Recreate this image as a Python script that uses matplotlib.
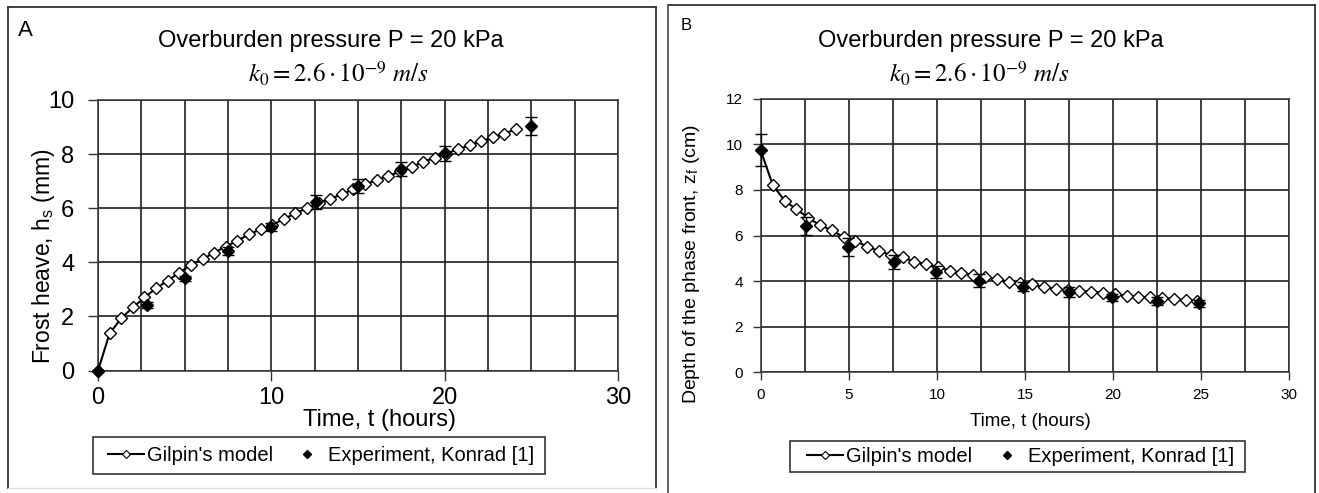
import matplotlib
matplotlib.use('Agg')
import matplotlib.pyplot as plt
from matplotlib.lines import Line2D
from matplotlib.patches import Rectangle
import matplotlib.ticker as mticker

plt.rcParams['font.family'] = ['Liberation Sans', 'DejaVu Sans']
plt.rcParams['mathtext.fontset'] = 'stix'

# ---------------- data ----------------
# Panel A: frost heave (mm)
model_t_A = [0, 0.67, 1.34, 2.01, 2.68, 3.35, 4.02, 4.69, 5.36, 6.03, 6.70, 7.37,
             8.04, 8.71, 9.38, 10.05, 10.72, 11.39, 12.06, 12.73, 13.40, 14.07,
             14.74, 15.41, 16.08, 16.75, 17.42, 18.09, 18.76, 19.43, 20.10, 20.77,
             21.44, 22.11, 22.78, 23.45, 24.12]
model_h_A = [0, 1.37, 1.93, 2.33, 2.70, 3.04, 3.32, 3.62, 3.90, 4.11, 4.36, 4.58,
             4.80, 5.03, 5.22, 5.38, 5.60, 5.81, 6.00, 6.18, 6.35, 6.51,
             6.70, 6.88, 7.04, 7.19, 7.36, 7.52, 7.71, 7.87, 8.02, 8.18,
             8.33, 8.48, 8.62, 8.76, 8.92]
exp_t_A = [0, 2.8, 5.0, 7.5, 10.0, 12.6, 15.0, 17.5, 20.0, 25.0]
exp_h_A = [0, 2.42, 3.41, 4.43, 5.32, 6.22, 6.82, 7.44, 8.03, 9.03]
exp_err_A = [0, 0.1, 0.1, 0.15, 0.15, 0.25, 0.25, 0.25, 0.28, 0.33]

# Panel B: depth of the phase front (cm)
model_t_B = [0, 0.67, 1.34, 2.01, 2.68, 3.35, 4.02, 4.69, 5.36, 6.03, 6.70, 7.37,
             8.04, 8.71, 9.38, 10.05, 10.72, 11.39, 12.06, 12.73, 13.40, 14.07,
             14.74, 15.41, 16.08, 16.75, 17.42, 18.09, 18.76, 19.43, 20.10, 20.77,
             21.44, 22.11, 22.78, 23.45, 24.12, 24.79]
model_z_B = [9.7, 8.21, 7.53, 7.15, 6.78, 6.45, 6.24, 5.92, 5.77, 5.51, 5.32, 5.14,
             5.04, 4.85, 4.74, 4.63, 4.46, 4.37, 4.27, 4.17, 4.08, 3.97,
             3.90, 3.86, 3.73, 3.65, 3.61, 3.57, 3.54, 3.49, 3.43, 3.35,
             3.32, 3.29, 3.27, 3.21, 3.17, 3.12]
exp_t_B = [0, 2.55, 4.95, 7.55, 9.95, 12.4, 14.9, 17.5, 19.95, 22.5, 24.9]
exp_z_B = [9.75, 6.42, 5.5, 4.84, 4.4, 4.02, 3.76, 3.52, 3.29, 3.14, 3.02]
exp_err_B = [0.7, 0.4, 0.4, 0.3, 0.25, 0.27, 0.2, 0.2, 0.15, 0.18, 0.15]

title_text = 'Overburden pressure P = 20 kPa'
k_text = r'$k_0 = 2.6\cdot 10^{-9}\ m/s$'
legend_labels = ["Gilpin's model", "Experiment, Konrad [1]"]

# ---------------- figure ----------------
W, H = 1319, 493
fig = plt.figure(figsize=(W / 100, H / 100), dpi=100)


def fx(px):
    return px / W


def fy(py):
    return 1 - py / H


axA = fig.add_axes([fx(98), fy(370.5), fx(618) - fx(98), fy(100) - fy(370.5)])
axB = fig.add_axes([fx(761), fy(372.3), fx(1289) - fx(761), fy(98.7) - fy(372.3)])

grid_kw = dict(color='#1f1f1f', linewidth=1.2)

for ax in (axA, axB):
    ax.set_xlim(0, 30)
    ax.xaxis.set_minor_locator(mticker.MultipleLocator(2.5))
    ax.yaxis.set_major_locator(mticker.MultipleLocator(2))
    ax.grid(True, which='both', axis='x', **grid_kw)
    ax.grid(True, which='major', axis='y', **grid_kw)
    ax.tick_params(which='minor', length=0)
    ax.set_axisbelow(True)
    for s in ax.spines.values():
        s.set_color('#333333')
        s.set_linewidth(1.1)

# Panel A
axA.set_ylim(0, 10)
axA.xaxis.set_major_locator(mticker.MultipleLocator(10))
axA.tick_params(which='major', direction='out', length=7, width=1, color='#333333',
                labelsize=17, colors='black')
axA.tick_params(axis='y', pad=10)
axA.tick_params(axis='x', pad=5)
axA.plot(model_t_A, model_h_A, '-', color='black', lw=1.5, marker='D', ms=5.8,
         mfc='white', mec='black', mew=1.0, zorder=3, clip_on=False)
axA.errorbar(exp_t_A, exp_h_A, yerr=exp_err_A, fmt='D', ms=6.5, color='black',
             ecolor='black', elinewidth=1, capsize=4, capthick=1, zorder=4,
             clip_on=False)

# Panel B
axB.set_ylim(0, 12)
axB.xaxis.set_major_locator(mticker.MultipleLocator(5))
axB.tick_params(which='major', direction='out', length=6, width=1, color='#333333',
                labelsize=11, colors='black')
axB.tick_params(axis='y', pad=7)
axB.tick_params(axis='x', pad=5)
axB.plot(model_t_B, model_z_B, '-', color='black', lw=1.5, marker='D', ms=5.8,
         mfc='white', mec='black', mew=1.0, zorder=3, clip_on=False,
         markevery=list(range(1, len(model_t_B))))
axB.errorbar(exp_t_B, exp_z_B, yerr=exp_err_B, fmt='D', ms=6.5, color='black',
             ecolor='black', elinewidth=1, capsize=4, capthick=1, zorder=4,
             clip_on=False)

# ---------------- texts ----------------
fig.text(fx(25), fy(30), 'A', fontsize=16, ha='center', va='center')
fig.text(fx(331), fy(41), title_text, fontsize=17, ha='center', va='center')
fig.text(fx(338), fy(74), k_text, fontsize=18, ha='center', va='center')
fig.text(fx(379), fy(420), 'Time, t (hours)', fontsize=17, ha='center', va='center')
fig.text(fx(44), fy(256), r'Frost heave, h$_\mathregular{s}$ (mm)', fontsize=16.5,
         ha='center', va='center', rotation=90)

fig.text(fx(686), fy(26), 'B', fontsize=12, ha='center', va='center')
fig.text(fx(991), fy(41), title_text, fontsize=17, ha='center', va='center')
fig.text(fx(979), fy(74), k_text, fontsize=18, ha='center', va='center')
fig.text(fx(1030), fy(421), 'Time, t (hours)', fontsize=13.5, ha='center', va='center')
fig.text(fx(692), fy(264), r'Depth of the phase front, z$_\mathregular{f}$ (cm)',
         fontsize=14, ha='center', va='center', rotation=90)


# ---------------- legends ----------------
def make_handles():
    return [Line2D([], [], color='black', lw=1.5, marker='D', ms=4, mfc='white',
                   mec='black', mew=0.8),
            Line2D([], [], ls='none', marker='D', ms=4.5, color='black')]


for (cx, cy), (bx0, by0, bx1, by1) in (((321, 455.5), (93, 437, 545, 474)),
                                         ((1020.5, 456.5), (790, 441, 1245, 472))):
    fig.legend(make_handles(), legend_labels, loc='center',
               bbox_to_anchor=(fx(cx), fy(cy)), ncol=2, frameon=False,
               handlelength=1.8, handletextpad=0.15, columnspacing=0.8,
               fontsize=14.5, borderpad=0.0, borderaxespad=0)
    fig.add_artist(Rectangle((fx(bx0), fy(by1)), fx(bx1) - fx(bx0), fy(by0) - fy(by1),
                             transform=fig.transFigure, fill=False,
                             edgecolor='#333333', lw=1.2))


# ---------------- panel frames ----------------
def fline(xs, ys, color='#333333', lw=1.3):
    fig.add_artist(Line2D([fx(x) for x in xs], [fy(y) for y in ys],
                          transform=fig.transFigure, color=color, lw=lw))


fline([8, 656], [7, 7])
fline([8, 8], [7, 488])
fline([656, 656], [7, 488])
fline([8, 656], [488, 488], color='#dddddd', lw=1.0)
fline([668, 1315], [5, 5])
fline([668, 668], [5, 493], color='#555555')
fline([1315, 1315], [5, 493])

fig.savefig('out.png', dpi=100)
